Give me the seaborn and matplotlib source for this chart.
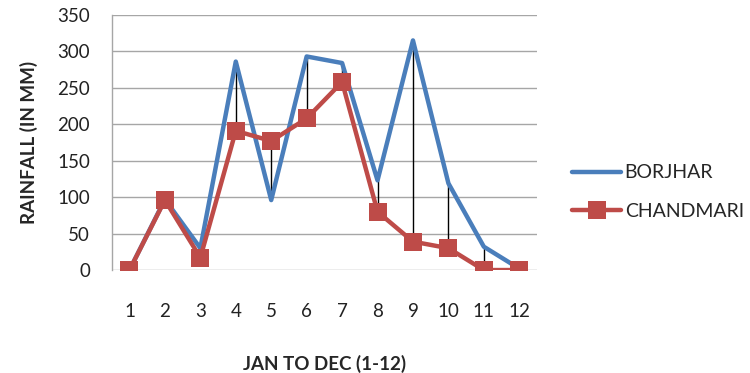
import numpy as np
import pandas as pd
import matplotlib
matplotlib.use("Agg")
import matplotlib.pyplot as plt
import seaborn as sns

months = [1, 2, 3, 4, 5, 6, 7, 8, 9, 10, 11, 12]
borjhar = [0, 97, 30, 286, 96, 293, 284, 123, 315, 119, 32, 2]
chandmari = [0, 96, 17, 191, 177, 208, 258, 80, 39, 30, 0, 0]
yticks = [0, 50, 100, 150, 200, 250, 300, 350]

sns.set_style("white")
plt.rcParams["font.family"] = ["Lato", "DejaVu Sans"]

df = pd.DataFrame({"month": months, "BORJHAR": borjhar, "CHANDMARI": chandmari})

fig = plt.figure(figsize=(7.5, 3.73), dpi=100)
ax = fig.add_axes([0.149, 0.276, 0.567, 0.684])

grid_c = "#a6a6a6"
for y in yticks:
    ax.axhline(y, color=grid_c, lw=1.0, zorder=0)

# high-low connectors between the two stations
lo = np.minimum(borjhar, chandmari)
hi = np.maximum(borjhar, chandmari)
ax.vlines(months, lo, hi, color="black", lw=1.0, zorder=1)

sns.lineplot(data=df, x="month", y="BORJHAR", ax=ax, color="#4a7ebb", lw=3.2,
             label="BORJHAR", zorder=3)
sns.lineplot(data=df, x="month", y="CHANDMARI", ax=ax, color="#be4b48", lw=3.2,
             marker="s", markersize=13, markeredgewidth=0, label="CHANDMARI", zorder=4)

ax.set_xlim(0.5, 12.5)
ax.set_ylim(0, 350)
ax.set_xticks(months)
ax.set_yticks(yticks)
ax.tick_params(axis="x", length=0, pad=24, labelsize=13.5, colors="#222222")
ax.tick_params(axis="y", length=6.5, width=1, color=grid_c, pad=9, labelsize=13.5, labelcolor="#222222")
for s in ["top", "right", "bottom"]:
    ax.spines[s].set_visible(False)
ax.spines["left"].set_color(grid_c)
ax.spines["left"].set_linewidth(1.0)

ax.set_xlabel("JAN TO DEC (1-12)", fontsize=13.5, fontweight="bold", labelpad=25)
ax.set_ylabel("RAINFALL (IN MM)", fontsize=13.5, fontweight="bold", labelpad=14)

ax.legend(loc="center left", bbox_to_anchor=(0.763, 0.485), bbox_transform=fig.transFigure,
          frameon=False, fontsize=14, handlelength=2.5, handletextpad=0.2,
          labelspacing=1.1, borderpad=0, borderaxespad=0)

fig.savefig("out.png", dpi=100)
